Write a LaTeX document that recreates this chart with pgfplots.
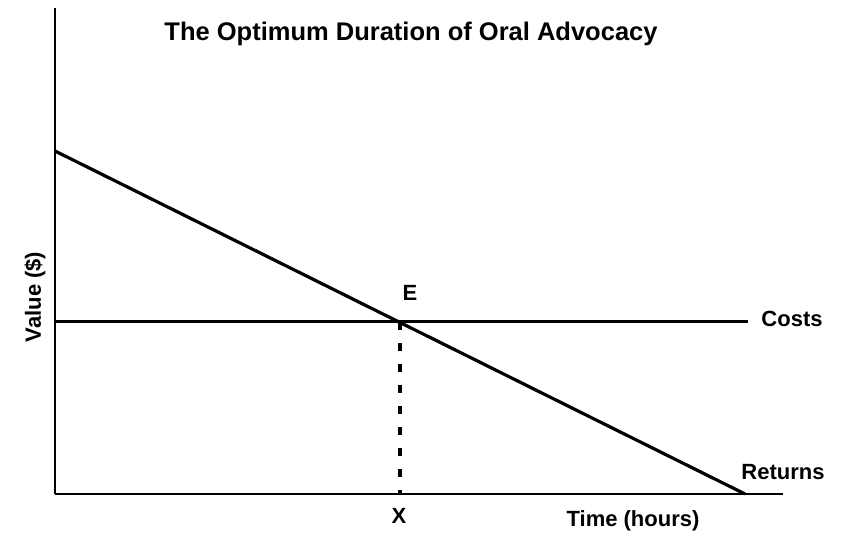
\documentclass[border=0pt]{standalone}
\usepackage{pgfplots}
\pgfplotsset{compat=1.18}
\usepackage{fontspec}
\setmainfont{Liberation Sans}
\begin{document}
\begin{tikzpicture}[x=1pt,y=1pt]
\path[use as bounding box] (0,0) rectangle (843,535);
\begin{axis}[
  at={(55pt,41pt)}, anchor=south west,
  scale only axis, width=728pt, height=486pt,
  xmin=0, xmax=728, ymin=0, ymax=486,
  axis x line=bottom, axis y line=left,
  axis line style={-, line width=1.8pt, black},
  xtick=\empty, ytick=\empty,
  clip=false,
]
\addplot[black, line width=3.2pt] coordinates {(0,343) (690,0)};
\addplot[black, line width=3pt] coordinates {(0,172) (693,172)};
\addplot[black, line width=3.4pt, dash pattern=on 8pt off 13pt] coordinates {(345,172) (345,0)};
\node[font=\fontsize{25.5}{28}\selectfont\bfseries] at (axis cs:356,460) {The Optimum Duration of Oral Advocacy};
\node[font=\fontsize{22}{24}\selectfont\bfseries] at (axis cs:737,175) {Costs};
\node[font=\fontsize{22}{24}\selectfont\bfseries] at (axis cs:728,22) {Returns};
\node[font=\fontsize{22}{24}\selectfont\bfseries] at (axis cs:578,-27) {Time (hours)};
\node[font=\fontsize{22}{24}\selectfont\bfseries] at (axis cs:344,-22) {X};
\node[font=\fontsize{22}{24}\selectfont\bfseries] at (axis cs:355,201) {E};
\node[font=\fontsize{22}{24}\selectfont\bfseries, rotate=90] at (axis cs:-20,197) {Value (\$)};
\end{axis}
\end{tikzpicture}
\end{document}
